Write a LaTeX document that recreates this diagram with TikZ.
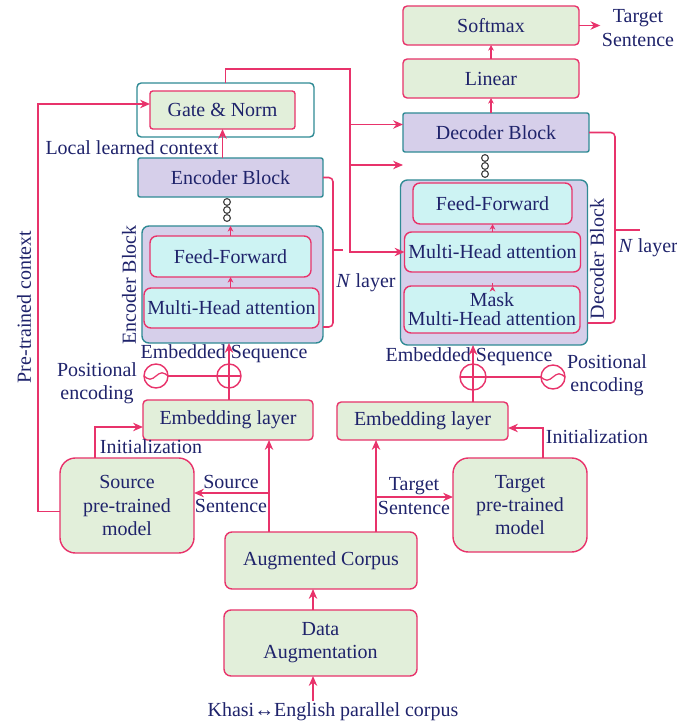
\documentclass[tikz,border=0pt]{standalone}
\usepackage{fontspec}
\setmainfont{Liberation Serif}
\usetikzlibrary{arrows.meta, positioning}
\definecolor{boxcol}{HTML}{E2EFDA}
\definecolor{blockcol}{HTML}{D6CFEA}
\definecolor{subcol}{HTML}{CDF3F3}
\definecolor{linecol}{HTML}{E8336B}
\definecolor{edgecol}{HTML}{2F8A94}
\definecolor{txtcol}{HTML}{1F236B}
\tikzset{
  gnode/.style={rectangle, draw=linecol, fill=boxcol, line width=1pt, rounded corners=3pt, inner sep=0pt, outer sep=0pt, align=center},
  mnode/.style={gnode, rounded corners=11pt},
  bnode/.style={rectangle, draw=edgecol, fill=blockcol, line width=1pt, rounded corners=1.5pt, inner sep=0pt, outer sep=0pt},
  onode/.style={rectangle, draw=edgecol, fill=blockcol, line width=1pt, rounded corners=5pt, inner sep=0pt, outer sep=0pt},
  cnode/.style={rectangle, draw=linecol, fill=subcol, line width=1pt, rounded corners=5pt, inner sep=0pt, outer sep=0pt, align=center},
  lbl/.style={inner sep=1pt, align=center},
  arr/.style={->, draw=linecol, line width=1.1pt},
  sarr/.style={-{Stealth[length=4pt,width=4pt]}, draw=linecol, line width=0.9pt},
  pline/.style={draw=linecol, line width=1.1pt},
  dotc/.style={circle, draw=black!75, fill=white, line width=0.8pt, minimum size=0.17cm, inner sep=0pt},
  ring/.style={circle, draw=linecol, fill=white, line width=1pt, minimum size=0.6cm, inner sep=0pt, outer sep=0pt},
}

\begin{document}
\begin{tikzpicture}[x=0.025cm, y=-0.025cm, >={Stealth[length=7pt,width=6pt]},
    font=\fontsize{14.2}{16.5}\selectfont, text=txtcol]
  \useasboundingbox (0,0) rectangle (676,727);

  % decoder side
  \node[gnode, minimum width=4.4cm, minimum height=0.975cm] (Softmax) at (491,25.5) {Softmax};
  \node[gnode, minimum width=4.4cm, minimum height=0.975cm] (Linear) at (491,78.5) {Linear};
  \node[bnode, minimum width=4.65cm, minimum height=0.975cm] (DecBlk) at (496,132.5) {Decoder Block};
  \node[onode, minimum width=4.675cm, minimum height=4.125cm] (DecOuter) at (494,262.5) {};
  \node[cnode, minimum width=3.975cm, minimum height=1.025cm] (DecFF) at (492.5,203.5) {Feed-Forward};
  \node[cnode, minimum width=4.4cm, minimum height=1cm] (DecMHA) at (492.5,252) {Multi-Head attention};
  \node[cnode, minimum width=4.4cm, minimum height=1.175cm, font=\fontsize{14.2}{13.5}\selectfont] (DecMask) at (492,309.5) {Mask\\Multi-Head attention};
  \node[gnode, minimum width=4.275cm, minimum height=0.95cm] (DecEmb) at (422.5,421) {Embedding layer};
  \node[mnode, minimum width=3.35cm, minimum height=2.35cm] (TgtModel) at (520,505) {Target\\pre-trained\\model};

  % encoder side
  \node[rectangle, draw=edgecol, fill=white, line width=1pt, rounded corners=3pt, inner sep=0pt, outer sep=0pt,
        minimum width=4.425cm, minimum height=1.35cm] (GateOuter) at (225.5,110) {};
  \node[gnode, rounded corners=2pt, minimum width=3.625cm, minimum height=0.95cm] (Gate) at (222.5,110) {Gate \& Norm};
  \node[bnode, minimum width=4.625cm, minimum height=0.975cm] (EncBlk) at (230.5,177.5) {Encoder Block};
  \node[onode, minimum width=4.525cm, minimum height=2.925cm] (EncOuter) at (232.5,284.5) {};
  \node[cnode, minimum width=4.025cm, minimum height=1.025cm] (EncFF) at (230.5,256.5) {Feed-Forward};
  \node[cnode, minimum width=4.375cm, minimum height=1cm] (EncMHA) at (231.5,308) {Multi-Head attention};
  \node[gnode, minimum width=4.25cm, minimum height=1cm] (EncEmb) at (228,420) {Embedding layer};
  \node[mnode, minimum width=3.35cm, minimum height=2.375cm] (SrcModel) at (127,505.5) {Source\\pre-trained\\model};

  % corpus
  \node[gnode, rounded corners=5pt, minimum width=4.8cm, minimum height=1.425cm] (AugCorpus) at (321,560.5) {Augmented Corpus};
  \node[gnode, rounded corners=5pt, minimum width=4.825cm, minimum height=1.65cm] (DataAug) at (320.5,643) {Data\\Augmentation};
  \node[lbl] (Khasi) at (333,712) {Khasi↔English parallel corpus};

  % stacked dots
  \foreach \yy [count=\i] in {158,166,174} \node[dotc] (dd\i) at (485,\yy) {};
  \foreach \yy [count=\i] in {202,210,218} \node[dotc] (ed\i) at (227,\yy) {};

  % positional encoding
  \node[ring] (EncPlus) at (229,376) {};
  \node[ring] (EncSine) at (156,376) {};
  \node[ring, minimum size=0.65cm] (DecPlus) at (473,377) {};
  \node[ring] (DecSine) at (553,377) {};

  % labels
  \node[lbl] (TgtOut) at (638,28) {Target\\Sentence};
  \node[lbl] (EncN) at (366,283) {\textit{N} layer};
  \node[lbl, anchor=west] (DecN) at (617,248) {\textit{N} layer};
  \node[lbl, rotate=90] (EncLbl) at (129,285) {Encoder Block};
  \node[lbl, rotate=90] (DecLbl) at (597,259) {Decoder Block};
  \node[lbl, rotate=90] (PreCtx) at (24,307) {Pre-trained context};
  \node[lbl] (LocCtx) at (132,148) {Local learned context};
  \node[lbl] (EncSeq) at (224,354) {Embedded Sequence};
  \node[lbl] (DecSeq) at (469,357) {Embedded Sequence};
  \node[lbl] (EncPos) at (97,383) {Positional\\encoding};
  \node[lbl] (DecPos) at (607,375) {Positional\\encoding};
  \node[lbl] (EncInit) at (151,447) {Initialization};
  \node[lbl] (DecInit) at (597,437) {Initialization};
  \node[lbl] (SrcSent) at (231,494) {Source\\Sentence};
  \node[lbl] (TgtSent) at (414,496) {Target\\Sentence};

  \coordinate (bus) at (350,69);
  \coordinate (decin) at ([yshift=0.2cm]DecBlk.west);
  \coordinate (dgap) at (403,165);
  \coordinate (ptc) at (38,307);
  \coordinate (srcsplit) at (269,493);
  \coordinate (tgtsplit) at (376,497);
  \coordinate (feed) at (313,690);
  \coordinate (encbrace) at (333,250);
  \coordinate (decbrace) at (615,230);

  % decoder stack
  \draw[arr] (Softmax.east) -- (Softmax.east -| TgtOut.west);
  \draw[sarr] (Linear.north) -- (Softmax.south);
  \draw[sarr] (Linear.south |- DecBlk.north) -- (Linear.south);
  \draw[sarr] (DecMask.north -| DecFF.south) -- (DecMask.north -| DecFF.south |- DecMHA.south);
  \draw[sarr] (DecMHA.north -| DecFF.south) -- (DecFF.south);

  % encoder stack
  \draw[sarr] (EncMHA.north -| EncFF.south) -- (EncFF.south);
  \draw[sarr] (EncFF.north) -- (EncFF.north |- EncOuter.north);
  \draw[arr] (Gate.south |- EncBlk.north) -- (Gate.south);

  % context to decoder
  \draw[arr] (GateOuter.north) |- (bus) |- (DecMHA.west);
  \draw[arr] (bus |- decin) -- (decin);
  \draw[arr] (bus |- dgap) -- (dgap);
  \draw[arr] ([yshift=-0.15cm]SrcModel.west) -| (ptc) |- ([yshift=0.15cm]Gate.west);

  % brackets
  \draw[pline, rounded corners=3pt] (EncBlk.east) -| (encbrace) |- ([yshift=0.4cm]EncOuter.south east);
  \draw[pline] (encbrace) -- ++(10,0);
  \draw[pline, rounded corners=3pt] (DecBlk.east) -| (decbrace) |- ([yshift=0.55cm]DecOuter.south east);
  \draw[pline] (decbrace) -- ++(25,0);

  % embedding and positional encoding
  \draw[arr] (EncEmb.north -| EncPlus) -- (EncOuter.south -| EncPlus);
  \draw[pline] (EncSine.east) -- (EncPlus.east);
  \draw[pline, line width=0.9pt] (EncSine.west) sin ++(0.15cm,-0.08cm) cos ++(0.15cm,0.08cm) sin ++(0.15cm,0.08cm) cos ++(0.15cm,-0.08cm);
  \draw[arr] (DecEmb.north -| DecPlus) -- (DecOuter.south -| DecPlus);
  \draw[pline] (DecPlus.west) -- (DecSine.west);
  \draw[pline, line width=0.9pt] (DecSine.west) sin ++(0.15cm,-0.08cm) cos ++(0.15cm,0.08cm) sin ++(0.15cm,0.08cm) cos ++(0.15cm,-0.08cm);

  % initialization
  \draw[arr] ([xshift=-0.8cm]SrcModel.north) |- ([yshift=-0.175cm]EncEmb.west);
  \draw[arr] ([xshift=0.575cm]TgtModel.north) |- ([yshift=-0.175cm]DecEmb.east);

  % sentences
  \draw[arr] (AugCorpus.north -| srcsplit) -- (EncEmb.south -| srcsplit);
  \draw[arr] (srcsplit) -- (SrcModel.east |- srcsplit);
  \draw[arr] (AugCorpus.north -| tgtsplit) -- (DecEmb.south -| tgtsplit);
  \draw[arr] (tgtsplit) -- (TgtModel.west |- tgtsplit);

  % corpus
  \draw[arr] (DataAug.north -| feed) -- (AugCorpus.south -| feed);
  \draw[arr] (Khasi.north -| feed) -- (DataAug.south -| feed);
\end{tikzpicture}
\end{document}
